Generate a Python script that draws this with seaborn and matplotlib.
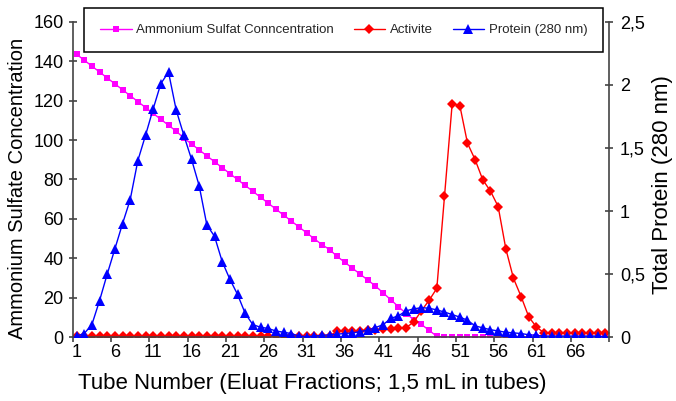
import matplotlib
matplotlib.use("Agg")
import matplotlib.pyplot as plt
import seaborn as sns
import pandas as pd
from matplotlib.ticker import FixedLocator, FixedFormatter

# ---- data ----
tubes = list(range(1, 71))
ammonium = [143.5, 140.5, 137.5, 134.5, 131.5, 128.5, 125.5, 122.5, 119.5, 116.5,
            113.5, 110.5, 107.5, 104.5, 101.0, 98.0, 95.0, 92.0, 89.0, 86.0,
            83.0, 80.0, 77.0, 74.0, 71.0, 68.0, 65.0, 62.0, 59.0, 56.0,
            53.0, 50.0, 47.0, 44.5, 41.0, 38.0, 35.0, 32.0, 29.0, 26.0,
            22.5, 19.0, 15.5, 12.0, 9.0, 6.5, 3.5, 0.5, 0, 0,
            0, 0, 0, 0, 0, 0, 0, 0, 0, 0,
            0, 0, 0, 0, 0, 0, 0, 0, 0, 0]
activite = [0.5, 0.5, 0.5, 0.5, 0.5, 0.5, 0.5, 0.5, 0.5, 0.5,
            0.5, 0.5, 0.5, 0.5, 0.5, 0.5, 0.5, 0.5, 0.5, 0.5,
            0.5, 0.5, 0.5, 0.5, 0.5, 0.5, 0.5, 0.5, 0.5, 0.5,
            0.5, 0.5, 0.5, 0.5, 3.2, 3.2, 3.3, 3.4, 3.5, 3.6,
            4.0, 4.2, 4.5, 4.9, 7.8, 13.5, 18.8, 24.8, 71.4, 118.3,
            117.5, 98.4, 90.0, 79.8, 74.1, 66.3, 44.9, 29.9, 20.6, 10.3,
            5.2, 2.2, 2.2, 2.2, 2.2, 2.2, 2.2, 2.2, 2.2, 2.2]
protein = [0.01, 0.03, 0.10, 0.29, 0.50, 0.70, 0.90, 1.09, 1.40, 1.60,
           1.81, 2.01, 2.10, 1.80, 1.60, 1.41, 1.20, 0.89, 0.80, 0.60,
           0.46, 0.34, 0.19, 0.10, 0.08, 0.07, 0.05, 0.04, 0.03, 0.01,
           0.005, 0.01, 0.015, 0.02, 0.025, 0.03, 0.035, 0.045, 0.058, 0.077,
           0.10, 0.15, 0.17, 0.21, 0.225, 0.235, 0.23, 0.217, 0.20, 0.18,
           0.16, 0.135, 0.09, 0.075, 0.06, 0.05, 0.04, 0.035, 0.03, 0.02,
           0.015, 0.01, 0.01, 0.01, 0.01, 0.01, 0.01, 0.01, 0.01, 0.005]
x_tick_values = [1, 6, 11, 16, 21, 26, 31, 36, 41, 46, 51, 56, 61, 66]
x_tick_labels = ["1", "6", "11", "16", "21", "26", "31", "36", "41", "46", "51", "56", "61", "66"]
left_ticks = [0, 20, 40, 60, 80, 100, 120, 140, 160]
right_ticks = [0, 0.5, 1, 1.5, 2, 2.5]
right_labels = ["0", "0,5", "1", "1,5", "2", "2,5"]
series_names = ["Ammonium Sulfat Conncentration", "Activite", "Protein (280 nm)"]

df = pd.DataFrame({"tube": tubes, "ammonium": ammonium,
                   "activite": activite, "protein": protein})

sns.set_theme(style="white")
plt.rcParams["font.family"] = ["Liberation Sans", "DejaVu Sans"]

W, H = 676, 401
fig = plt.figure(figsize=(W / 100, H / 100), dpi=100)
L, R, T, B = 72.7, 609.3, 21.7, 337.3
ax = fig.add_axes([L / W, 1 - B / H, (R - L) / W, (B - T) / H])
ax2 = ax.twinx()

spine_col = "#444444"

sns.lineplot(data=df, x="tube", y="ammonium", ax=ax, color="#FF00FF", marker="s",
             markersize=4, markeredgewidth=0, linewidth=1, legend=False)
sns.lineplot(data=df, x="tube", y="activite", ax=ax, color="#FF0000", marker="D",
             markersize=5, markeredgewidth=0, linewidth=1, legend=False)
sns.lineplot(data=df, x="tube", y="protein", ax=ax2, color="#0000FF", marker="^",
             markersize=6.8, markeredgewidth=0, linewidth=1, legend=False)

ax.set_xlim(0.5, 70.5)
ax.set_ylim(0, 160)
ax2.set_ylim(0, 2.5)

for a in (ax, ax2):
    a.spines["top"].set_visible(False)
    for s in ("left", "right", "bottom"):
        a.spines[s].set_color(spine_col)
        a.spines[s].set_linewidth(1.2)
    a.grid(False)
    a.set_facecolor("none")
ax.spines["right"].set_visible(False)
ax2.spines["left"].set_visible(False)
ax2.spines["bottom"].set_visible(False)

# x ticks: labels at tube centres, tick marks at category boundaries
ax.xaxis.set_major_locator(FixedLocator(x_tick_values))
ax.xaxis.set_major_formatter(FixedFormatter(x_tick_labels))
ax.xaxis.set_minor_locator(FixedLocator([0.5 + 5 * k for k in range(15)]))
ax.tick_params(axis="x", which="major", length=0, pad=5, labelsize=13, colors="black")
ax.tick_params(axis="x", which="minor", length=3.6, width=1.2, direction="out",
               color=spine_col, bottom=True)

ax.set_yticks(left_ticks)
ax.set_yticklabels([str(v) for v in left_ticks])
ax.tick_params(axis="y", direction="inout", length=6, width=1.2, pad=3.6,
               labelsize=13, color=spine_col, labelcolor="black", left=True)
ax2.set_yticks(right_ticks)
ax2.set_yticklabels(right_labels)
ax2.tick_params(axis="y", direction="inout", length=6, width=1.2, pad=4.7,
                labelsize=13, color=spine_col, labelcolor="black", right=True)

ax.set_xlabel("Tube Number (Eluat Fractions; 1,5 mL in tubes)", fontsize=16,
              color="black", va="center")
ax.xaxis.set_label_coords(0.446, -0.145)
ax.set_ylabel("Ammonium Sulfate Concentration", fontsize=14.5, color="black", va="center")
ax.yaxis.set_label_coords(-0.102, 0.473)
ax2.set_ylabel("Total Protein (280 nm)", fontsize=16, color="black", va="center",
               rotation=90)
ax2.yaxis.set_label_coords(1.100, 0.483)

handles = [ax.get_lines()[0], ax.get_lines()[1], ax2.get_lines()[0]]
leg = fig.legend(handles, series_names, ncol=3, loc="upper left",
                 bbox_to_anchor=(84 / W, 1 - 53.3 / H, (603.3 - 84) / W, 45 / H),
                 mode="expand", borderaxespad=0, fontsize=9.5, frameon=True,
                 fancybox=False, shadow=False, framealpha=1, edgecolor="black",
                 handlelength=2.4, handletextpad=0.35, borderpad=1.2,
                 columnspacing=1.5, numpoints=1)
leg.get_frame().set_linewidth(1.1)

fig.savefig("out.png", dpi=100)
